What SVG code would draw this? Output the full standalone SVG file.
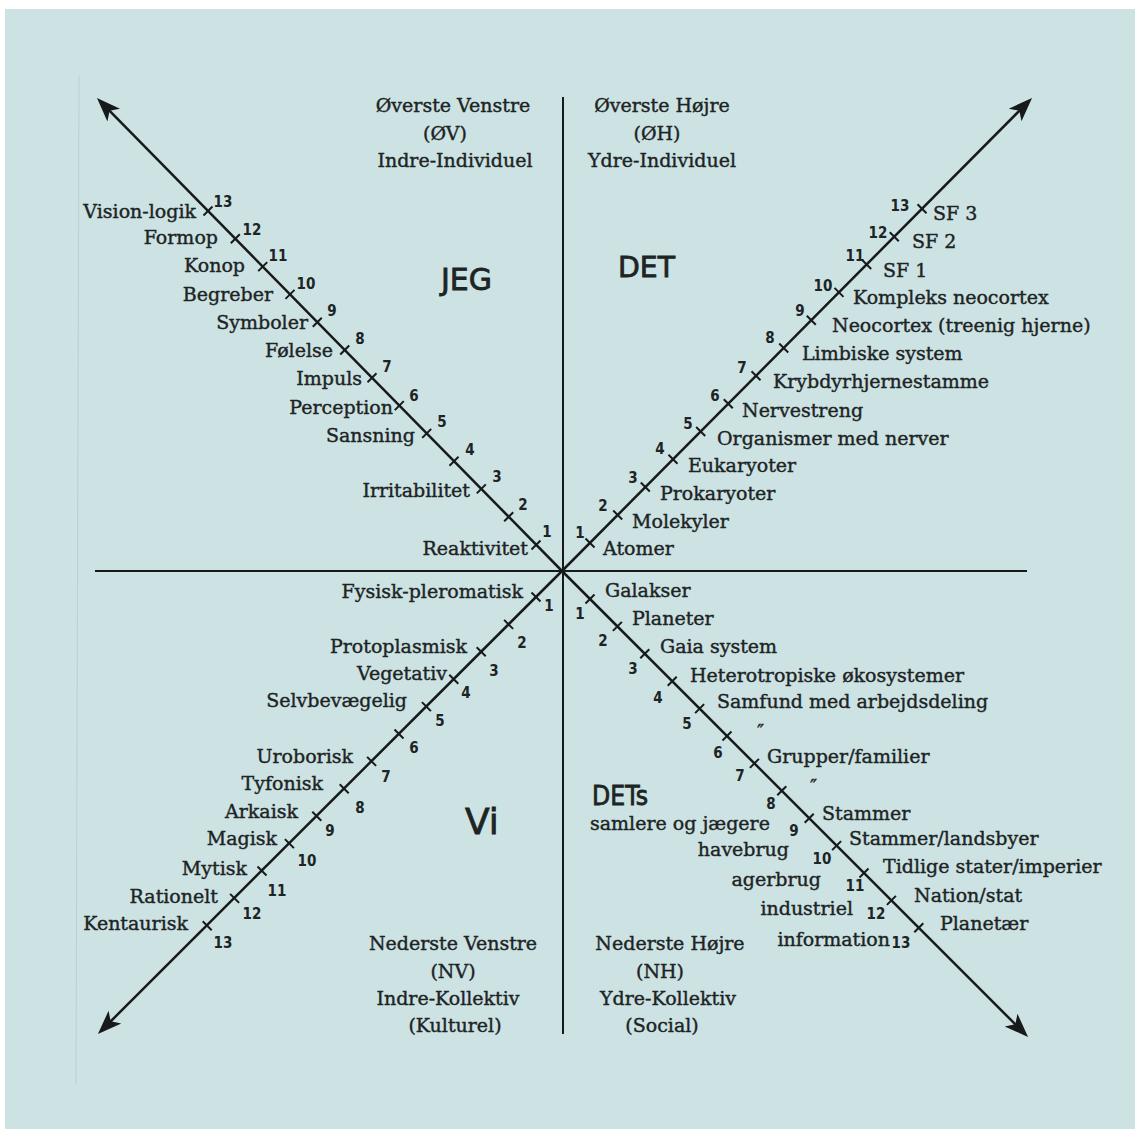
<svg xmlns="http://www.w3.org/2000/svg" xmlns:xlink="http://www.w3.org/1999/xlink" width="1135" height="1129" viewBox="0 0 1135 1129">
<style>
.lbl{font-family:"DejaVu Serif",serif;font-size:19px;fill:#1c2424;stroke:#1c2424;stroke-width:0.4}
.e{text-anchor:end}
.m{text-anchor:middle}
.num{font-family:"DejaVu Sans Condensed","DejaVu Sans",sans-serif;font-weight:bold;font-size:15px;fill:#1c2424;text-anchor:middle}
.hand{font-family:"DejaVu Sans",sans-serif;fill:#1c2424;stroke:#1c2424;stroke-width:0.8}
.ax{stroke:#161a1a;stroke-width:2.5;fill:none}
.axt{stroke:#161a1a;stroke-width:2;fill:none}
.tk{stroke:#161a1a;stroke-width:2;fill:none}
</style>
<defs>
<marker id="ah" markerUnits="userSpaceOnUse" markerWidth="26" markerHeight="20" refX="14" refY="10" orient="auto">
<path d="M0,1 L24,10 L0,19 L6,10 Z" fill="#161a1a"/>
</marker>
<path id="ta" class="tk" d="M-4.5,4.5 L4.5,-4.5"/>
<path id="tb" class="tk" d="M-4.5,-4.5 L4.5,4.5"/>
</defs>
<rect x="0" y="0" width="1135" height="1129" fill="#ffffff"/>
<rect x="5" y="9" width="1130" height="1120" fill="#cde2e3"/>
<line x1="79" y1="75" x2="76" y2="1085" stroke="#bccfd0" stroke-width="1"/>

<g id="connectors">
<line class="axt" x1="563" y1="97" x2="563" y2="1034"/>
<line class="axt" x1="95" y1="571" x2="1027" y2="571"/>
<line class="ax" x1="562" y1="571" x2="104" y2="105.1" marker-end="url(#ah)"/>
<line class="ax" x1="562" y1="571" x2="1025" y2="105.1" marker-end="url(#ah)"/>
<line class="ax" x1="562" y1="571" x2="105" y2="1027" marker-end="url(#ah)"/>
<line class="ax" x1="562" y1="571" x2="1021" y2="1030" marker-end="url(#ah)"/>
<g id="ticks-ul">
<use href="#ta" x="536" y="545"/><use href="#ta" x="508.7" y="516.8"/><use href="#ta" x="481.3" y="488.9"/><use href="#ta" x="454" y="461.2"/><use href="#ta" x="426.7" y="433.4"/><use href="#ta" x="399.3" y="405.6"/><use href="#ta" x="372" y="377.8"/><use href="#ta" x="344.7" y="350"/><use href="#ta" x="317.3" y="322.2"/><use href="#ta" x="290" y="294.4"/><use href="#ta" x="262.7" y="266.6"/><use href="#ta" x="235.3" y="238.8"/><use href="#ta" x="208" y="211"/>
</g>
<g id="ticks-ur">
<use href="#tb" x="590" y="543"/><use href="#tb" x="617.7" y="515"/><use href="#tb" x="645.3" y="487"/><use href="#tb" x="673" y="459.3"/><use href="#tb" x="700.7" y="431.5"/><use href="#tb" x="728.3" y="403.7"/><use href="#tb" x="756" y="375.8"/><use href="#tb" x="783.7" y="348"/><use href="#tb" x="811.3" y="320.2"/><use href="#tb" x="839" y="292.4"/><use href="#tb" x="866.7" y="264.5"/><use href="#tb" x="894.3" y="236.7"/><use href="#tb" x="922" y="208.8"/>
</g>
<g id="ticks-ll">
<use href="#tb" x="536" y="597"/><use href="#tb" x="508.6" y="624.4"/><use href="#tb" x="481.2" y="651.8"/><use href="#tb" x="453.8" y="679.2"/><use href="#tb" x="426.4" y="706.6"/><use href="#tb" x="399" y="734"/><use href="#tb" x="371.6" y="761.4"/><use href="#tb" x="344.2" y="788.8"/><use href="#tb" x="316.8" y="816.2"/><use href="#tb" x="289.4" y="843.6"/><use href="#tb" x="262" y="871"/><use href="#tb" x="234.6" y="898.4"/><use href="#tb" x="207.2" y="925.8"/>
</g>
<g id="ticks-lr">
<use href="#ta" x="590" y="599"/><use href="#ta" x="617.4" y="626.4"/><use href="#ta" x="644.8" y="653.8"/><use href="#ta" x="672.2" y="681.2"/><use href="#ta" x="699.6" y="708.6"/><use href="#ta" x="727" y="736"/><use href="#ta" x="754.4" y="763.4"/><use href="#ta" x="781.8" y="790.8"/><use href="#ta" x="809.2" y="818.2"/><use href="#ta" x="836.6" y="845.6"/><use href="#ta" x="864" y="873"/><use href="#ta" x="891.4" y="900.4"/><use href="#ta" x="918.8" y="927.8"/>
</g>
</g>

<g id="header-ov">
<text class="lbl m" x="453" y="112">Øverste Venstre</text>
<text class="lbl m" x="445" y="140">(ØV)</text>
<text class="lbl m" x="455" y="167">Indre-Individuel</text>
</g>
<g id="header-oh">
<text class="lbl m" x="662" y="112">Øverste Højre</text>
<text class="lbl m" x="657" y="140">(ØH)</text>
<text class="lbl m" x="662" y="167">Ydre-Individuel</text>
</g>
<g id="header-nv">
<text class="lbl m" x="453" y="950">Nederste Venstre</text>
<text class="lbl m" x="453" y="978">(NV)</text>
<text class="lbl m" x="448" y="1005">Indre-Kollektiv</text>
<text class="lbl m" x="455" y="1032">(Kulturel)</text>
</g>
<g id="header-nh">
<text class="lbl m" x="670" y="950">Nederste Højre</text>
<text class="lbl m" x="660" y="978">(NH)</text>
<text class="lbl m" x="668" y="1005">Ydre-Kollektiv</text>
<text class="lbl m" x="662" y="1032">(Social)</text>
</g>

<g id="q-jeg"><text class="hand" x="441" y="290" font-size="30" textLength="51" lengthAdjust="spacingAndGlyphs">JEG</text></g>
<g id="q-det"><text class="hand" x="618" y="277" font-size="28" textLength="57" lengthAdjust="spacingAndGlyphs">DET</text></g>
<g id="q-vi"><text class="hand" x="465" y="834" font-size="36">Vi</text></g>
<g id="q-dets"><text class="hand" x="592" y="805" font-size="26" textLength="56" lengthAdjust="spacingAndGlyphs">DETs</text></g>

<g id="ul-labels">
<text class="lbl e" x="196" y="218">Vision-logik</text>
<text class="lbl e" x="218" y="244">Formop</text>
<text class="lbl e" x="245" y="272">Konop</text>
<text class="lbl e" x="273" y="301">Begreber</text>
<text class="lbl e" x="308" y="329">Symboler</text>
<text class="lbl e" x="333" y="357">Følelse</text>
<text class="lbl e" x="362" y="385">Impuls</text>
<text class="lbl e" x="393" y="414">Perception</text>
<text class="lbl e" x="415" y="442">Sansning</text>
<text class="lbl e" x="470" y="497">Irritabilitet</text>
<text class="lbl e" x="528" y="555">Reaktivitet</text>
</g>
<g id="ul-numbers">
<text class="num" x="547" y="537">1</text>
<text class="num" x="523" y="510">2</text>
<text class="num" x="497" y="482">3</text>
<text class="num" x="470" y="455">4</text>
<text class="num" x="442" y="427">5</text>
<text class="num" x="414" y="401">6</text>
<text class="num" x="387" y="372">7</text>
<text class="num" x="360" y="344">8</text>
<text class="num" x="332" y="316">9</text>
<text class="num" x="306" y="289">10</text>
<text class="num" x="278" y="261">11</text>
<text class="num" x="252" y="235">12</text>
<text class="num" x="223" y="207">13</text>
</g>

<g id="ur-labels">
<text class="lbl" x="933" y="220">SF 3</text>
<text class="lbl" x="912" y="248">SF 2</text>
<text class="lbl" x="883" y="277">SF 1</text>
<text class="lbl" x="853" y="304">Kompleks neocortex</text>
<text class="lbl" x="832" y="332">Neocortex (treenig hjerne)</text>
<text class="lbl" x="802" y="360">Limbiske system</text>
<text class="lbl" x="773" y="388">Krybdyrhjernestamme</text>
<text class="lbl" x="742" y="417">Nervestreng</text>
<text class="lbl" x="717" y="445">Organismer med nerver</text>
<text class="lbl" x="688" y="472">Eukaryoter</text>
<text class="lbl" x="660" y="500">Prokaryoter</text>
<text class="lbl" x="632" y="528">Molekyler</text>
<text class="lbl" x="603" y="555">Atomer</text>
</g>
<g id="ur-numbers">
<text class="num" x="580" y="538">1</text>
<text class="num" x="603" y="511">2</text>
<text class="num" x="633" y="483">3</text>
<text class="num" x="660" y="454">4</text>
<text class="num" x="688" y="429">5</text>
<text class="num" x="715" y="401">6</text>
<text class="num" x="742" y="373">7</text>
<text class="num" x="770" y="343">8</text>
<text class="num" x="800" y="316">9</text>
<text class="num" x="823" y="291">10</text>
<text class="num" x="855" y="261">11</text>
<text class="num" x="878" y="238">12</text>
<text class="num" x="900" y="211">13</text>
</g>

<g id="ll-labels">
<text class="lbl e" x="523" y="598">Fysisk-pleromatisk</text>
<text class="lbl e" x="467" y="653">Protoplasmisk</text>
<text class="lbl e" x="447" y="680">Vegetativ</text>
<text class="lbl e" x="407" y="707">Selvbevægelig</text>
<text class="lbl e" x="353" y="763">Uroborisk</text>
<text class="lbl e" x="323" y="790">Tyfonisk</text>
<text class="lbl e" x="298" y="818">Arkaisk</text>
<text class="lbl e" x="277" y="845">Magisk</text>
<text class="lbl e" x="247" y="875">Mytisk</text>
<text class="lbl e" x="218" y="903">Rationelt</text>
<text class="lbl e" x="188" y="930">Kentaurisk</text>
</g>
<g id="ll-numbers">
<text class="num" x="549" y="611">1</text>
<text class="num" x="522" y="648">2</text>
<text class="num" x="494" y="676">3</text>
<text class="num" x="466" y="698">4</text>
<text class="num" x="440" y="726">5</text>
<text class="num" x="414" y="753">6</text>
<text class="num" x="386" y="782">7</text>
<text class="num" x="360" y="813">8</text>
<text class="num" x="330" y="836">9</text>
<text class="num" x="307" y="866">10</text>
<text class="num" x="277" y="896">11</text>
<text class="num" x="252" y="919">12</text>
<text class="num" x="223" y="948">13</text>
</g>

<g id="lr-labels">
<text class="lbl" x="605" y="597">Galakser</text>
<text class="lbl" x="632" y="625">Planeter</text>
<text class="lbl" x="660" y="653">Gaia system</text>
<text class="lbl" x="690" y="682">Heterotropiske økosystemer</text>
<text class="lbl" x="717" y="708">Samfund med arbejdsdeling</text>
<text class="lbl" x="757" y="738">″</text>
<text class="lbl" x="810" y="793">″</text>
<text class="lbl" x="767" y="763">Grupper/familier</text>
<text class="lbl" x="822" y="820">Stammer</text>
<text class="lbl" x="849" y="845">Stammer/landsbyer</text>
<text class="lbl" x="883" y="873">Tidlige stater/imperier</text>
<text class="lbl" x="914" y="902">Nation/stat</text>
<text class="lbl" x="940" y="930">Planetær</text>
</g>
<g id="lr-numbers">
<text class="num" x="580" y="619">1</text>
<text class="num" x="603" y="646">2</text>
<text class="num" x="633" y="674">3</text>
<text class="num" x="658" y="703">4</text>
<text class="num" x="687" y="729">5</text>
<text class="num" x="718" y="758">6</text>
<text class="num" x="740" y="781">7</text>
<text class="num" x="771" y="809">8</text>
<text class="num" x="794" y="836">9</text>
<text class="num" x="822" y="864">10</text>
<text class="num" x="855" y="891">11</text>
<text class="num" x="876" y="919">12</text>
<text class="num" x="901" y="948">13</text>
</g>
<g id="lr-eras">
<text class="lbl" x="590" y="830">samlere og jægere</text>
<text class="lbl e" x="789" y="856">havebrug</text>
<text class="lbl e" x="821" y="886">agerbrug</text>
<text class="lbl e" x="853" y="915">industriel</text>
<text class="lbl e" x="890" y="946">information</text>
</g>
</svg>
